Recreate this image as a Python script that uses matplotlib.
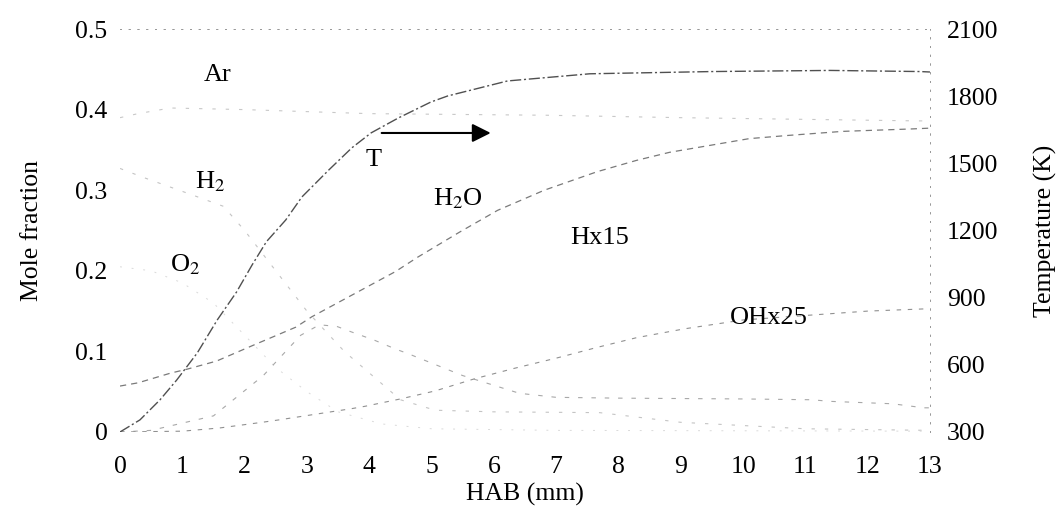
import numpy as np
import matplotlib.pyplot as plt

plt.rcParams['font.family'] = ['Liberation Serif', 'DejaVu Serif']
plt.rcParams['mathtext.fontset'] = 'stix'

# HAB (mm) and mole fractions
hab_t = [0, 0.32, 0.64, 0.91, 1.24, 1.56, 1.87, 2.12, 2.35, 2.66, 2.92, 3.35,
         3.72, 4.03, 4.47, 4.99, 5.26, 6.22, 7.54, 9.5, 11.4, 12.84, 13]
temp = [300, 354, 443, 532, 653, 800, 925, 1046, 1150, 1247, 1350, 1470,
        1569, 1636, 1703, 1774, 1801, 1868, 1900, 1910, 1915, 1910, 1908]

hab_h2o = [0, 0.29, 0.81, 1.08, 1.55, 2.18, 2.82, 3.08, 4.42, 4.78, 5.45,
           6.06, 6.81, 7.66, 8.29, 8.82, 10.1, 10.73, 11.6, 12.7, 13]
h2o = [0.057, 0.061, 0.073, 0.078, 0.088, 0.109, 0.130, 0.143, 0.199, 0.217,
       0.248, 0.275, 0.300, 0.323, 0.337, 0.347, 0.364, 0.368, 0.373, 0.376, 0.377]

hab_h = [0, 1.0, 1.6, 2.28, 2.55, 3.72, 3.94, 4.5, 5.06, 5.69, 6.33, 7.02,
         7.66, 8.29, 9.06, 10.0, 11.08, 12.0, 13]
h_x15 = [0, 0.001, 0.005, 0.012, 0.015, 0.029, 0.032, 0.041, 0.051, 0.066,
         0.079, 0.092, 0.105, 0.117, 0.128, 0.139, 0.145, 0.150, 0.153]

hab_oh = [0, 0.5, 1.5, 2.3, 2.9, 3.2, 3.48, 3.72, 4.08, 4.42, 4.63, 5.5,
          6.41, 7.0, 8.0, 10.0, 11.1, 11.4, 12.4, 12.9, 13]
oh_x25 = [0, 0.002, 0.02, 0.07, 0.12, 0.133, 0.131, 0.124, 0.114, 0.103,
          0.097, 0.070, 0.048, 0.043, 0.042, 0.041, 0.040, 0.038, 0.035, 0.030, 0.030]

hab_h2 = [0, 0.37, 1.2, 1.66, 2.0, 2.5, 3.0, 3.6, 4.2, 4.5, 5.06, 6.0, 7.7,
          9.0, 11.0, 13]
h2 = [0.327, 0.316, 0.293, 0.280, 0.250, 0.200, 0.150, 0.100, 0.060, 0.040,
      0.027, 0.025, 0.024, 0.012, 0.004, 0.002]

hab_o2 = [0, 0.5, 1.0, 1.5, 2.0, 2.5, 3.0, 3.5, 4.2, 5.0, 7.0, 13]
o2 = [0.205, 0.200, 0.185, 0.160, 0.120, 0.080, 0.050, 0.025, 0.010, 0.004,
      0.002, 0.001]

hab_ar = [0, 0.29, 0.81, 2.0, 4.0, 6.86, 9.0, 12.8, 13]
ar = [0.390, 0.395, 0.402, 0.400, 0.395, 0.393, 0.390, 0.386, 0.386]

fig = plt.figure(figsize=(10.61, 5.09), dpi=100)
ax = fig.add_axes([0.1131, 0.1513, 0.7634, 0.7917])
ax2 = ax.twinx()

# the scan lost most of the thin lines, so keep them pale
ax.plot(hab_ar, ar, color='#c8c8c8', linewidth=0.8, dashes=(3, 9))
ax.plot(hab_h2, h2, color='#c4c4c4', linewidth=0.8, dashes=(3, 9))
ax.plot(hab_o2, o2, color='#dadada', linewidth=0.7, dashes=(2, 10))
ax.plot(hab_oh, oh_x25, color='#a8a8a8', linewidth=0.8, dashes=(4, 8))
ax.plot(hab_h, h_x15, color='#909090', linewidth=0.8, dashes=(4, 6))
ax.plot(hab_h2o, h2o, color='#7a7a7a', linewidth=0.9, dashes=(5, 4))
ax2.plot(hab_t, temp, color='#505050', linewidth=1.0, dashes=(8, 2, 1.5, 2))

ax.set_xlim(0, 13)
ax.set_ylim(0, 0.5)
ax2.set_ylim(300, 2100)
ax.set_xticks(range(0, 14))
ax.set_yticks([0, 0.1, 0.2, 0.3, 0.4, 0.5])
ax.set_yticklabels(['0', '0.1', '0.2', '0.3', '0.4', '0.5'])
ax2.set_yticks(range(300, 2101, 300))

fs = 18.5
ax.tick_params(axis='x', length=0, pad=17, labelsize=fs)
ax.tick_params(axis='y', length=0, pad=9, labelsize=fs)
ax2.tick_params(axis='y', length=0, pad=12, labelsize=fs)

for a in (ax, ax2):
    for side in ('left', 'bottom'):
        a.spines[side].set_visible(False)
    for side in ('top', 'right'):
        a.spines[side].set_linestyle((0, (1, 8)))
        a.spines[side].set_color('#999999')
        a.spines[side].set_linewidth(0.7)

ax.set_xlabel('HAB (mm)', fontsize=fs, labelpad=4)
ax.set_ylabel('Mole fraction', fontsize=fs, labelpad=23)
ax2.set_ylabel('Temperature (K)', fontsize=fs, labelpad=26)

# species labels
lf = 19
ax.text(1.56, 0.443, 'Ar', fontsize=lf, ha='center', va='center')
ax.text(1.45, 0.31, 'H$_2$', fontsize=lf, ha='center', va='center')
ax.text(1.04, 0.207, 'O$_2$', fontsize=lf, ha='center', va='center')
ax.text(4.07, 0.337, 'T', fontsize=lf, ha='center', va='center')
ax.text(5.42, 0.29, 'H$_2$O', fontsize=lf, ha='center', va='center')
ax.text(7.69, 0.241, 'Hx15', fontsize=lf, ha='center', va='center')
ax.text(10.41, 0.141, 'OHx25', fontsize=lf, ha='center', va='center')

ax.annotate('', xy=(5.95, 0.371), xytext=(4.2, 0.371),
            arrowprops=dict(arrowstyle='-|>', color='black', lw=1.5,
                            mutation_scale=28, shrinkA=0, shrinkB=0))

fig.savefig('out.png', dpi=100)
